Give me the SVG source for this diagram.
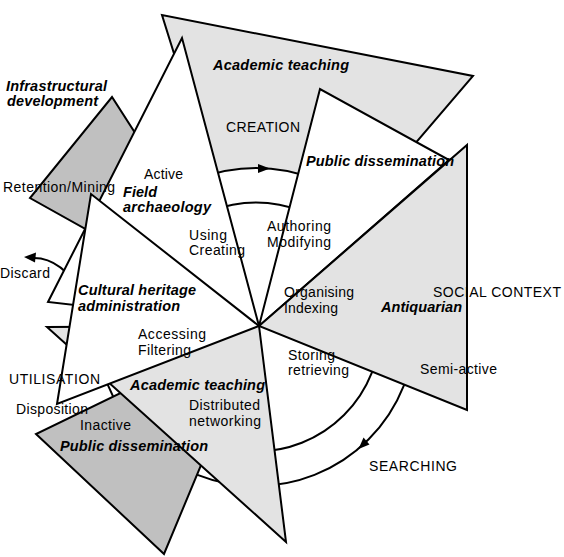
<svg xmlns="http://www.w3.org/2000/svg" width="564" height="557" viewBox="0 0 564 557">
<style>
.lg{fill:#e3e3e3;stroke:#000;stroke-width:2;stroke-linejoin:miter}
.dg{fill:#c0c0c0;stroke:#000;stroke-width:2;stroke-linejoin:miter}
.wh{fill:#fff;stroke:#000;stroke-width:2;stroke-linejoin:miter}
.ln{fill:none;stroke:#000;stroke-width:2}
.ah{fill:#000;stroke:none}
text{font-family:"Liberation Sans",Arial,sans-serif;font-size:14px;fill:#000}
.b{font-weight:bold;font-style:italic;font-size:14.5px}
</style>
<rect width="564" height="557" fill="#fff"/>
<g id="academic-teaching-top"><polygon class="lg" points="259,326 162,15 473,76"/></g>
<g id="infrastructural-development"><polygon class="dg" points="259,326 112,97 30,198"/></g>
<g id="connectors">
  <path class="ln" d="M34,258 Q62,258 84,296"/>
  <polygon class="ah" points="24,257 36,252.5 35,262.5"/>
  <circle cx="256" cy="327" r="159" fill="#fff" stroke="none"/>
  <circle class="ln" cx="256" cy="327" r="159"/>
  <circle class="ln" cx="256" cy="327" r="124.5"/>
  <polygon class="ah" points="270,168.5 258,164 258,173"/>
  <polygon class="ah" points="358.5,449 369.5,444.5 363.5,437.5"/>
</g>
<g id="field-archaeology"><polygon class="wh" points="259,326 182,38 48,302"/></g>
<g id="public-dissemination-top"><polygon class="wh" points="259,326 320,89 449,160"/></g>
<g id="antiquarian"><polygon class="lg" points="259,326 467,145 467,410"/></g>
<g id="public-dissemination-bottom"><polygon class="dg" points="259,326 36,434 164,554"/></g>
<g id="academic-teaching-bottom"><polygon class="lg" points="259,326 47,327 286,542"/></g>
<g id="cultural-heritage-administration"><polygon class="wh" points="259,326 91,194 57,404"/></g>
<g id="labels">
  <text class="b" x="213" y="70" textLength="136">Academic teaching</text>
  <text class="b" x="6" y="91" textLength="101">Infrastructural</text>
  <text class="b" x="7" y="106" textLength="91">development</text>
  <text class="b" x="306" y="166" textLength="148">Public dissemination</text>
  <text class="b" x="123" y="197" textLength="34">Field</text>
  <text class="b" x="123" y="212" textLength="88">archaeology</text>
  <text class="b" x="78" y="295" textLength="118">Cultural heritage</text>
  <text class="b" x="78" y="311" textLength="102">administration</text>
  <text class="b" x="381" y="312" textLength="81">Antiquarian</text>
  <text class="b" x="130" y="390" textLength="135">Academic teaching</text>
  <text class="b" x="60" y="451" textLength="148">Public dissemination</text>
  <text x="226" y="132" textLength="74">CREATION</text>
  <text x="144" y="179" textLength="39">Active</text>
  <text x="3" y="192" textLength="112">Retention/Mining</text>
  <text x="189" y="240" textLength="38">Using</text>
  <text x="189" y="255" textLength="56">Creating</text>
  <text x="267" y="231" textLength="64">Authoring</text>
  <text x="267" y="247" textLength="64">Modifying</text>
  <text x="0" y="278" textLength="50">Discard</text>
  <text x="284" y="297" textLength="70">Organising</text>
  <text x="284" y="313" textLength="54">Indexing</text>
  <text x="433" y="297" textLength="128">SOCIAL CONTEXT</text>
  <text x="138" y="339" textLength="68">Accessing</text>
  <text x="138" y="355" textLength="53">Filtering</text>
  <text x="288" y="360" textLength="47">Storing</text>
  <text x="288" y="375" textLength="61">retrieving</text>
  <text x="420" y="374" textLength="77">Semi-active</text>
  <text x="9" y="384" textLength="91">UTILISATION</text>
  <text x="16" y="414" textLength="72">Disposition</text>
  <text x="189" y="410" textLength="71">Distributed</text>
  <text x="189" y="426" textLength="72">networking</text>
  <text x="80" y="430" textLength="51">Inactive</text>
  <text x="369" y="471" textLength="88">SEARCHING</text>
</g>
</svg>
